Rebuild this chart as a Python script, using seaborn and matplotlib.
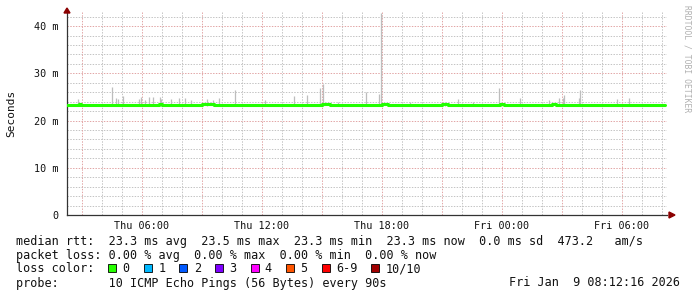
import matplotlib
matplotlib.use("Agg")
import matplotlib.pyplot as plt
from matplotlib.patches import Rectangle, Polygon
import numpy as np
import pandas as pd
import seaborn as sns

# ---------------- data ----------------
# time in hours since Thu 00:00
spike_hours = [2.8, 4.5, 4.7, 4.8, 5.05, 5.85, 5.95, 6.15, 6.35, 6.55, 6.9, 6.95,
               7.45, 7.85, 8.15, 8.45, 9.25, 9.55, 9.85, 10.65, 12.15, 13.6, 14.25,
               14.9, 15.05, 15.8, 17.2, 17.85, 17.95, 19.4, 21.15, 21.8, 22.55,
               23.85, 24.9, 26.35, 26.85, 27.05, 27.1, 27.85, 27.9, 29.75, 30.35]
spike_top_ms = [24.5, 27.2, 24.7, 24.5, 25.3, 24.5, 25.1, 24.3, 24.9, 24.9, 24.9, 24.6,
                24.5, 24.7, 24.7, 24.3, 24.5, 24.4, 24.7, 26.4, 24.3, 25.3, 25.5,
                27.0, 27.7, 23.9, 26.0, 25.7, 42.8, 24.0, 23.9, 24.5, 24.0,
                26.8, 24.7, 24.3, 24.7, 24.7, 25.5, 24.7, 26.4, 24.5, 24.7]
median_hours = [2.25, 2.85, 2.95, 6.85, 7.0, 9.0, 9.6, 15.0, 15.4, 18.0, 18.3,
                21.0, 21.3, 23.9, 24.1, 26.5, 26.7, 32.15]
median_ms = [23.3, 23.5, 23.3, 23.5, 23.3, 23.5, 23.3, 23.5, 23.3, 23.5, 23.3,
             23.5, 23.3, 23.5, 23.3, 23.5, 23.3, 23.3]
xtick_hours = [6, 12, 18, 24, 30]
xtick_labels = ["Thu 06:00", "Thu 12:00", "Thu 18:00", "Fri 00:00", "Fri 06:00"]
ytick_values = [0, 10, 20, 30, 40]
ytick_labels = ["0", "10 m", "20 m", "30 m", "40 m"]
loss_labels = ["0", "1", "2", "3", "4", "5", "6-9", "10/10"]
loss_colors = ["#26ff00", "#00b8ff", "#0059ff", "#7e00ff", "#ff00ff", "#ff5500", "#ff0000", "#a10000"]

line1 = "median rtt:  23.3 ms avg  23.5 ms max  23.3 ms min  23.3 ms now  0.0 ms sd  473.2   am/s"
line2 = "packet loss: 0.00 % avg  0.00 % max  0.00 % min  0.00 % now"
line4 = "probe:       10 ICMP Echo Pings (56 Bytes) every 90s"
stamp = "Fri Jan  9 08:12:16 2026"

# ---------------- figure ----------------
sns.set_style("white")
plt.rcParams["font.family"] = ["DejaVu Sans Mono"]

W, H = 697, 297
fig = plt.figure(figsize=(W / 100, H / 100), dpi=100)
fig.patch.set_facecolor("white")
ax = fig.add_axes([67 / W, (H - 215) / H, 600 / W, 203 / H])
ax.set_facecolor("white")
ax.set_xlim(2.25, 32.25)
ax.set_ylim(0, 43.0)

# grid (dotted)
gkw = dict(lw=0.72, ls=(0, (1.4, 1.4)), antialiased=True)
for h in range(3, 33):
    if h % 3 == 0:
        ax.axvline(h, color="#e2a6a6", zorder=1, **gkw)
    else:
        ax.axvline(h, color="#c4c4c4", zorder=0.5, **gkw)
for v in range(2, 43, 2):
    if v % 10 == 0:
        ax.axhline(v, color="#e2a6a6", zorder=1, **gkw)
    else:
        ax.axhline(v, color="#c4c4c4", zorder=0.5, **gkw)

# smoke spikes
ax.vlines(spike_hours, 23.0, spike_top_ms, color="#bdbdbd", lw=0.9, zorder=2)

# median line
df = pd.DataFrame({"h": median_hours, "ms": median_ms})
sns.lineplot(data=df, x="h", y="ms", ax=ax, color="#22ff00", lw=2.2,
             drawstyle="steps-post", estimator=None, zorder=3)

# axes styling
for s in ["top", "right"]:
    ax.spines[s].set_visible(False)
for s in ["left", "bottom"]:
    ax.spines[s].set_color("#333333")
    ax.spines[s].set_linewidth(0.9)
ax.set_xlabel("")
ax.set_ylabel("")
ax.set_xticks(xtick_hours)
ax.set_xticklabels(xtick_labels)
ax.set_yticks(ytick_values)
ax.set_yticklabels(ytick_labels)
ax.tick_params(axis="x", length=0, pad=4, labelsize=7.3, colors="#111111")
ax.tick_params(axis="y", length=0, pad=6, labelsize=7.3, colors="#111111")

def fp(x, y):
    return (x / W, 1 - y / H)

# arrows
fig.patches.append(Polygon([fp(64, 13), fp(70, 13), fp(67, 8)], closed=True,
                           transform=fig.transFigure, color="#8b0000"))
fig.patches.append(Polygon([fp(669, 212), fp(669, 218), fp(675, 215)], closed=True,
                           transform=fig.transFigure, color="#8b0000"))

# labels
fig.text(*fp(11, 113), "Seconds", rotation=90, ha="center", va="center", fontsize=8, color="#111111")
fig.text(*fp(687, 5), "RRDTOOL / TOBI OETIKER", rotation=270, ha="center", va="top",
         fontsize=5.8, color="#b0b0b0")

fs = 8.5
cw = 0.6021 * fs / 72 * 100
x0 = 16
fig.text(*fp(x0, 241), line1, ha="left", va="center", fontsize=fs, color="#111111")
fig.text(*fp(x0, 255), line2, ha="left", va="center", fontsize=fs, color="#111111")
fig.text(*fp(x0, 283), line4, ha="left", va="center", fontsize=fs, color="#111111")
fig.text(*fp(680, 283), stamp, ha="right", va="center", fontsize=fs, color="#111111")

# loss color line
fig.text(*fp(x0, 269), "loss color:", ha="left", va="center", fontsize=fs, color="#111111")
col = 13
for lab, c in zip(loss_labels, loss_colors):
    bx = x0 + col * cw
    r = Rectangle(fp(bx, 272), 8 / W, 8 / H, transform=fig.transFigure,
                  facecolor=c, edgecolor="#000000", lw=0.6)
    fig.patches.append(r)
    fig.text(*fp(x0 + (col + 2) * cw, 269), lab, ha="left", va="center", fontsize=fs, color="#111111")
    col += 2 + len(lab) + 2

fig.savefig("out.png", dpi=100, facecolor="white")
